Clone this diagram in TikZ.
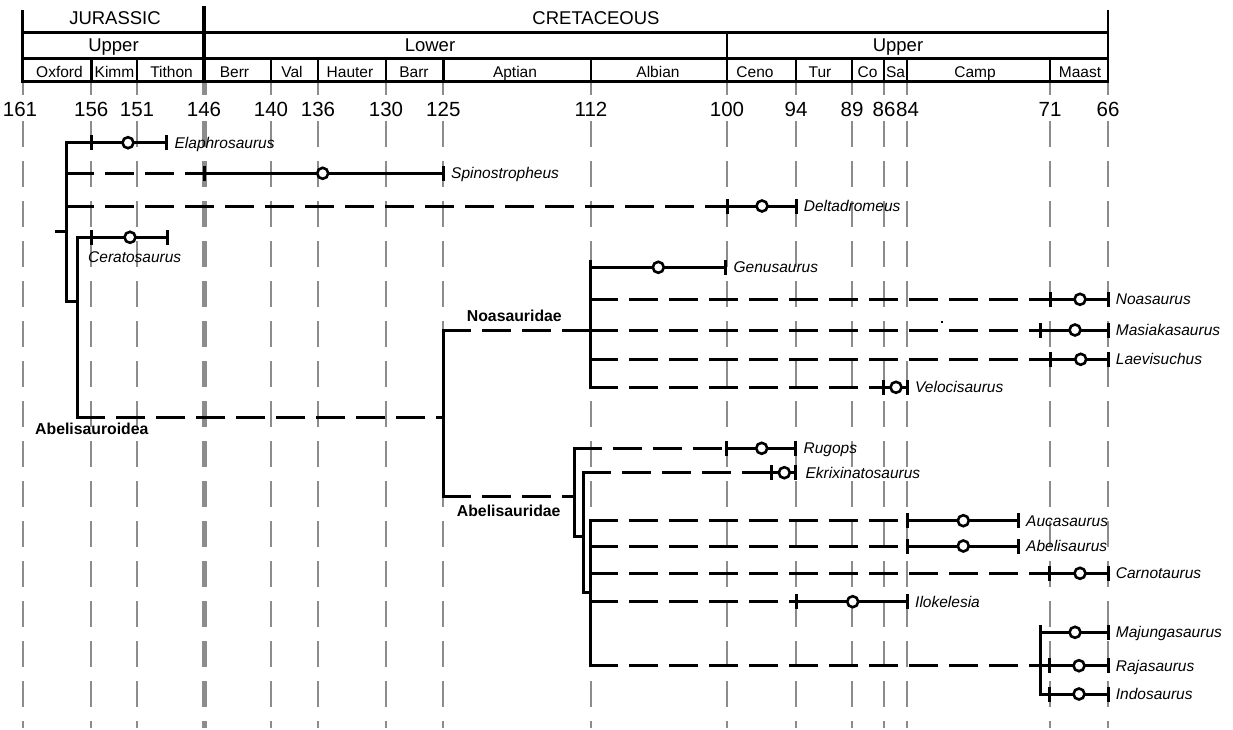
\documentclass[tikz,border=0pt]{standalone}
\usepackage{fontspec}
\setmainfont{Liberation Sans}
\usetikzlibrary{positioning,calc}

\begin{document}
\begin{tikzpicture}[
    x=1pt, y=-1pt,
    every node/.style={inner sep=0pt},
    period/.style={font=\fontsize{18.5}{20}\selectfont, anchor=base},
    stagename/.style={font=\fontsize{15.5}{18}\selectfont, anchor=base},
    age/.style={font=\fontsize{20.5}{22}\selectfont, anchor=base},
    frame/.style={line width=2.8pt, line cap=rect},
    timeline/.style={black!45, line width=2.2pt},
    gridline/.style={timeline, dash pattern=on 26pt off 14pt},
    tree/.style={line width=3pt, line cap=rect},
    ghost/.style={tree, dash pattern=on 26pt off 14pt},
    fad/.style={rectangle, fill=black, minimum width=3pt, minimum height=15pt},
    find/.style={circle, draw, line width=2.6pt, fill=white, minimum size=11pt},
    taxon/.style={font=\itshape\fontsize{15.5}{18}\selectfont, text height=11.2pt, text depth=0pt},
    clade/.style={font=\bfseries\fontsize{15.8}{18}\selectfont, anchor=base west}
]
\useasboundingbox (0,0) rectangle (1233,730);

% Time lines behind everything
\foreach \x in {22.7,91.3,137,271,318,386,443.3,591,727,796,852,884,907,1050,1108} {
  \draw[timeline] (\x,82) -- (\x,95);
  \draw[gridline] (\x,121) -- (\x,728);
}
\draw[timeline, line width=5pt] (204,82) -- (204,95);
\draw[gridline, line width=5pt] (204,121) -- (204,728);

% Time scale frame
\draw[frame] (22.7,11.7) -- (22.7,81.7);
\draw[frame] (1108,11.7) -- (1108,81.7);
\draw[line width=4pt] (204,6) -- (204,81.7);
\draw[frame] (22.7,32.3) -- (1108,32.3);
\draw[frame] (22.7,58.3) -- (1108,58.3);
\draw[frame] (22.7,81.7) -- (1108,81.7);
\draw[frame] (727,32.3) -- (727,81.7);
\foreach \x in {91.3,137,271,318,386,443.3,591,796,852,884,907,1050}
  \draw[frame] (\x,58.3) -- (\x,81.7);

% Periods and epochs
\node[period] (jur) at (115,25) {JURASSIC};
\node[period] (cret) at (596,25) {CRETACEOUS};
\node[period] (jur-up) at (113.5,51.7) {Upper};
\node[period] (cret-lo) at (430,51.7) {Lower};
\node[period] (cret-up) at (898,51.7) {Upper};

% Stages
\node[stagename] (oxf) at (59.5,77.3) {Oxford};
\node[stagename] (kim) at (114.5,77.3) {Kimm};
\node[stagename] (tit) at (171.5,77.3) {Tithon};
\node[stagename] (ber) at (234.5,77.3) {Berr};
\node[stagename] (val) at (292,77.3) {Val};
\node[stagename] (hau) at (350,77.3) {Hauter};
\node[stagename] (bar) at (414,77.3) {Barr};
\node[stagename] (apt) at (515,77.3) {Aptian};
\node[stagename] (alb) at (658,77.3) {Albian};
\node[stagename] (cen) at (755,77.3) {Ceno};
\node[stagename] (tur) at (820,77.3) {Tur};
\node[stagename] (con) at (867.5,77.3) {Co};
\node[stagename] (san) at (895.5,77.3) {Sa};
\node[stagename] (cam) at (975,77.3) {Camp};
\node[stagename] (maa) at (1080,77.3) {Maast};

% Ages (Ma)
\node[age] (a161) at (20,116.7) {161};
\node[age] (a156) at (91.3,116.7) {156};
\node[age] (a151) at (137,116.7) {151};
\node[age] (a146) at (204,116.7) {146};
\node[age] (a140) at (271,116.7) {140};
\node[age] (a136) at (318,116.7) {136};
\node[age] (a130) at (386,116.7) {130};
\node[age] (a125) at (443.3,116.7) {125};
\node[age] (a112) at (591,116.7) {112};
\node[age] (a100) at (727,116.7) {100};
\node[age] (a94) at (796,116.7) {94};
\node[age] (a89) at (852,116.7) {89};
\node[age] (a86) at (884,116.7) {86};
\node[age] (a84) at (907.5,116.7) {84};
\node[age] (a71) at (1050,116.7) {71};
\node[age] (a66) at (1108,116.7) {66};

% Basal ceratosaurs
\coordinate (root) at (56,231);
\coordinate (cer) at (66.7,231);
\coordinate (neo) at (77.3,301.7);
\draw[tree] (root) -- (cer);
\draw[tree] (66.7,142.7) -- (66.7,301.7) -- (neo);
\draw[tree] (77.3,237.3) -- (77.3,417.3);

\node[fad] (ela-f) at (91.3,142.7) {};
\node[find] (ela) at (128,142.7) {};
\node[fad] (ela-l) at (166.7,142.7) {};
\draw[tree] (cer |- ela) -- (ela-f) -- (ela) -- (ela-l);
\node[taxon, right=6pt of ela-l] (ela-t) {Elaphrosaurus};

\node[fad] (spi-f) at (204,173.3) {};
\node[find] (spi) at (322.7,173.3) {};
\node[fad] (spi-l) at (443.3,173.3) {};
\draw[ghost] (cer |- spi) -- (spi-f);
\draw[tree] (spi-f) -- (spi) -- (spi-l);
\node[taxon, right=6pt of spi-l] (spi-t) {Spinostropheus};

\node[fad] (del-f) at (727,206) {};
\node[find] (del) at (762,206) {};
\node[fad] (del-l) at (796,206) {};
\draw[ghost] (cer |- del) -- (del-f);
\draw[tree] (del-f) -- (del) -- (del-l);
\node[taxon, right=6pt of del-l] (del-t) {Deltadromeus};

\node[fad] (cera-f) at (91.3,237.3) {};
\node[find] (cera) at (130,237.3) {};
\node[fad] (cera-l) at (167.7,237.3) {};
\draw[tree] (neo |- cera) -- (cera-f) -- (cera) -- (cera-l);
\node[taxon, anchor=west] (cera-t) at (88,257) {Ceratosaurus};

% Abelisauroidea
\draw[ghost] (77.3,417.3) -- (443.3,417.3);
\node[clade] (abd) at (35,434) {Abelisauroidea};
\draw[tree] (443.3,330) -- (443.3,496.7);

% Noasauridae
\coordinate (noa) at (590,330);
\draw[ghost] (443.3,330) -- (noa);
\node[clade] (noa-t) at (466.7,321.7) {Noasauridae};
\draw[tree] (590,267.3) -- (590,387.3);

\node[fad] (gen-f) at (590,267.3) {};
\node[find] (gen) at (658.3,267.3) {};
\node[fad] (gen-l) at (725.7,267.3) {};
\draw[tree] (gen-f) -- (gen) -- (gen-l);
\node[taxon, right=6pt of gen-l] (gen-t) {Genusaurus};

\node[fad] (nos-f) at (1050,299.3) {};
\node[find] (nos) at (1080,299.3) {};
\node[fad] (nos-l) at (1108,299.3) {};
\draw[ghost] (noa |- nos) -- (nos-f);
\draw[tree] (nos-f) -- (nos) -- (nos-l);
\node[taxon, right=6pt of nos-l] (nos-t) {Noasaurus};

\node[fad] (mas-f) at (1040.7,330) {};
\node[find] (mas) at (1075,330) {};
\node[fad] (mas-l) at (1108,330) {};
\draw[ghost] (noa) -- (mas-f);
\draw[tree] (mas-f) -- (mas) -- (mas-l);
\node[taxon, right=6pt of mas-l] (mas-t) {Masiakasaurus};
\fill (940.7,320.7) rectangle (942.7,322.7);

\node[fad] (lae-f) at (1050,359.3) {};
\node[find] (lae) at (1080.7,359.3) {};
\node[fad] (lae-l) at (1108,359.3) {};
\draw[ghost] (noa |- lae) -- (lae-f);
\draw[tree] (lae-f) -- (lae) -- (lae-l);
\node[taxon, right=6pt of lae-l] (lae-t) {Laevisuchus};

\node[fad] (vel-f) at (883.3,387.3) {};
\node[find] (vel) at (896,387.3) {};
\node[fad] (vel-l) at (907.3,387.3) {};
\draw[ghost] (noa |- vel) -- (vel-f);
\draw[tree] (vel-f) -- (vel) -- (vel-l);
\node[taxon, right=6pt of vel-l] (vel-t) {Velocisaurus};

% Abelisauridae
\draw[ghost] (443.3,496.7) -- (574,496.7);
\node[clade] (abl-t) at (456.7,516.7) {Abelisauridae};
\draw[tree] (574,448.3) -- (574,536) -- (583.3,536);
\draw[tree] (583.3,472.7) -- (583.3,592.7) -- (590,592.7);
\coordinate (car) at (590,592.7);
\draw[tree] (590,520.7) -- (590,665.7);

\node[fad] (rug-f) at (726.7,448.3) {};
\node[find] (rug) at (761.7,448.3) {};
\node[fad] (rug-l) at (795.7,448.3) {};
\draw[ghost] (574,448.3) -- (rug-f);
\draw[tree] (rug-f) -- (rug) -- (rug-l);
\node[taxon, right=6pt of rug-l] (rug-t) {Rugops};

\node[fad] (ekr-f) at (771.7,472.7) {};
\node[find] (ekr) at (784.3,472.7) {};
\node[fad] (ekr-l) at (795.7,472.7) {};
\draw[ghost] (583.3,472.7) -- (ekr-f);
\draw[tree] (ekr-f) -- (ekr) -- (ekr-l);
\node[taxon, right=8pt of ekr-l] (ekr-t) {Ekrixinatosaurus};

\node[fad] (auc-f) at (907.3,520.7) {};
\node[find] (auc) at (963.3,520.7) {};
\node[fad] (auc-l) at (1018.3,520.7) {};
\draw[ghost] (car |- auc) -- (auc-f);
\draw[tree] (auc-f) -- (auc) -- (auc-l);
\node[taxon, right=6pt of auc-l] (auc-t) {Aucasaurus};

\node[fad] (abe-f) at (907.3,546) {};
\node[find] (abe) at (963.3,546) {};
\node[fad] (abe-l) at (1018.3,546) {};
\draw[ghost] (car |- abe) -- (abe-f);
\draw[tree] (abe-f) -- (abe) -- (abe-l);
\node[taxon, right=6pt of abe-l] (abe-t) {Abelisaurus};

\node[fad] (cnt-f) at (1049.5,573.3) {};
\node[find] (cnt) at (1080,573.3) {};
\node[fad] (cnt-l) at (1108,573.3) {};
\draw[ghost] (car |- cnt) -- (cnt-f);
\draw[tree] (cnt-f) -- (cnt) -- (cnt-l);
\node[taxon, right=6pt of cnt-l] (cnt-t) {Carnotaurus};

\node[fad] (ilo-f) at (796,601.7) {};
\node[find] (ilo) at (852.7,601.7) {};
\node[fad] (ilo-l) at (907.3,601.7) {};
\draw[ghost] (car |- ilo) -- (ilo-f);
\draw[tree] (ilo-f) -- (ilo) -- (ilo-l);
\node[taxon, right=6pt of ilo-l] (ilo-t) {Ilokelesia};

% Majungasaurines
\coordinate (maj) at (1040.7,665.7);
\draw[ghost] (590,665.7) -- (maj);
\draw[tree] (1040.7,632.3) -- (1040.7,694);

\node[fad] (mjg-f) at (1040.7,632.3) {};
\node[find] (mjg) at (1075,632.3) {};
\node[fad] (mjg-l) at (1108,632.3) {};
\draw[tree] (mjg-f) -- (mjg) -- (mjg-l);
\node[taxon, right=6pt of mjg-l] (mjg-t) {Majungasaurus};

\node[fad] (raj-f) at (1049.5,665.7) {};
\node[find] (raj) at (1079,665.7) {};
\node[fad] (raj-l) at (1108,665.7) {};
\draw[tree] (maj) -- (raj-f) -- (raj) -- (raj-l);
\node[taxon, right=6pt of raj-l] (raj-t) {Rajasaurus};

\node[fad] (ind-f) at (1049.5,694) {};
\node[find] (ind) at (1079,694) {};
\node[fad] (ind-l) at (1108,694) {};
\draw[tree] (maj |- ind) -- (ind-f) -- (ind) -- (ind-l);
\node[taxon, right=6pt of ind-l] (ind-t) {Indosaurus};

\end{tikzpicture}
\end{document}
